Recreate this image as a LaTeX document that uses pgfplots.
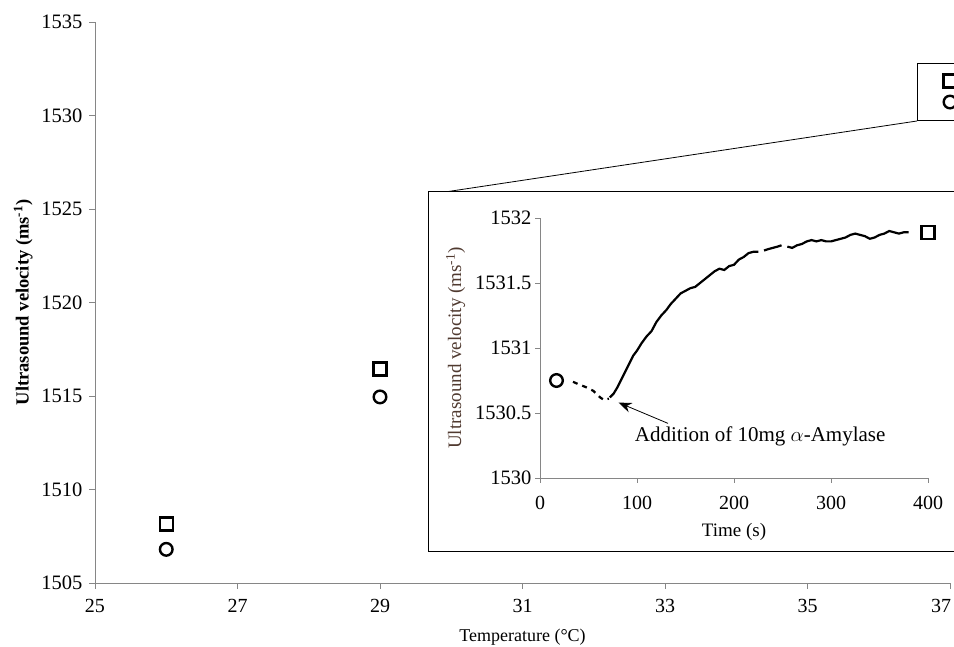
\documentclass[border=0pt]{standalone}
\usepackage{pgfplots}
\pgfplotsset{compat=1.18}
\usepackage{fontspec}
\setmainfont{Liberation Serif}
\usetikzlibrary{arrows.meta}
\definecolor{axgray}{RGB}{134,134,134}
\definecolor{labbrown}{RGB}{80,58,48}
\begin{document}
\begin{tikzpicture}[x=1pt,y=1pt]
\path[use as bounding box] (0,0) rectangle (954,647);
% main axis
\begin{axis}[
  at={(95pt,64pt)}, anchor=south west,
  scale only axis, width=855pt, height=561pt,
  xmin=25, xmax=37, ymin=1505, ymax=1535,
  xtick={25,27,...,37}, ytick={1505,1510,...,1535},
  xticklabels={25,27,29,31,33,35,{\hbox to 0pt{\hss 37\hspace{-1pt}}}},
  axis x line*=bottom, axis y line*=left,
  axis line style={axgray, line width=0.9pt},
  major tick style={axgray, line width=0.9pt},
  major tick length=6pt, tick align=outside,
  clip=false,
  /pgf/number format/assume math mode=true,
  /pgf/number format/1000 sep={},
  xticklabel style={font=\fontsize{20}{22}\selectfont, yshift=-7pt},
  yticklabel style={font=\fontsize{20.5}{22}\selectfont, xshift=-3pt},
  xlabel={Temperature (°C)},
  xlabel style={font=\fontsize{18}{20}\selectfont},
  xlabel shift=9pt,
  ylabel={\textbf{Ultrasound velocity (ms\textsuperscript{-1})}},
  ylabel style={font=\fontsize{18.5}{20}\selectfont},
  ylabel shift=2pt,
]
\addplot[only marks, mark=square, mark size=6.5pt, line width=2.4pt, black]
  coordinates {(26,1508.15) (29,1516.45) (37,1531.85)};
\addplot[only marks, mark=o, mark size=6.3pt, line width=2.4pt, black]
  coordinates {(26,1506.8) (29,1514.95) (37,1530.72)};
\end{axis}
% zoom indicator
\draw[line width=1pt] (917,526) rectangle (970,583);
\draw[line width=0.8pt] (917,526) -- (445,455);
% inset frame
\draw[line width=1pt, fill=white] (428,95) rectangle (970,455);
\begin{axis}[
  at={(540pt,169pt)}, anchor=south west,
  scale only axis, width=388pt, height=260pt,
  xmin=0, xmax=400, ymin=1530, ymax=1532,
  xtick={0,100,...,400}, ytick={1530,1530.5,...,1532},
  axis x line*=bottom, axis y line*=left,
  axis line style={axgray, line width=0.9pt},
  major tick style={axgray, line width=0.9pt},
  major tick length=5pt, tick align=outside,
  clip=false,
  /pgf/number format/assume math mode=true,
  /pgf/number format/1000 sep={},
  xticklabel style={font=\fontsize{20}{22}\selectfont, yshift=-10pt},
  yticklabel style={font=\fontsize{20.5}{22}\selectfont},
  xlabel={Time (s)},
  xlabel style={font=\fontsize{19}{21}\selectfont},
  xlabel shift=6pt,
  ylabel={Ultrasound velocity (ms\textsuperscript{-1})},
  ylabel style={font=\fontsize{19}{21}\selectfont, text=labbrown},
  ylabel shift=3pt,
]
\addplot[only marks, mark=o, mark size=6.3pt, line width=2.4pt, black]
  coordinates {(17,1530.75)};
\addplot[only marks, mark=square, mark size=6.5pt, line width=2.4pt, black]
  coordinates {(400,1531.89)};
\addplot[black, line width=2.2pt, dash pattern=on 5pt off 5pt]
  coordinates {(34,1530.74) (40,1530.72) (47,1530.70) (55,1530.67) (62,1530.62) (66,1530.60) (71,1530.61)};
\addplot[black, line width=2.2pt]
  coordinates {(72,1530.62) (76,1530.65) (80,1530.70) (84,1530.76) (88,1530.82) (92,1530.88) (96,1530.94) (100,1530.98) (105,1531.04) (110,1531.09) (115,1531.13) (120,1531.20) (125,1531.25) (130,1531.29) (135,1531.34) (140,1531.38) (145,1531.42) (150,1531.44) (155,1531.46) (160,1531.47) (165,1531.50) (170,1531.53) (175,1531.56) (180,1531.59) (185,1531.61) (190,1531.60) (195,1531.63) (200,1531.64) (205,1531.68) (210,1531.70) (215,1531.73) (220,1531.74) (225,1531.74)};
\addplot[black, line width=2.2pt]
  coordinates {(231,1531.75) (235,1531.76) (240,1531.77) (245,1531.78) (249,1531.79)};
\addplot[black, line width=2.2pt]
  coordinates {(255,1531.78) (260,1531.77) (265,1531.79) (270,1531.80) (275,1531.82) (280,1531.83) (285,1531.82) (290,1531.83) (295,1531.82) (300,1531.82) (305,1531.83) (310,1531.84) (315,1531.85) (320,1531.87) (325,1531.88) (330,1531.87) (335,1531.86) (340,1531.84) (345,1531.85) (350,1531.87) (355,1531.88) (360,1531.90) (365,1531.89) (370,1531.88) (375,1531.89) (380,1531.89)};
\draw[-{Stealth[length=13pt,width=10pt]}, line width=0.8pt] (axis cs:132,1530.42) -- (axis cs:81,1530.58);
\node[font=\fontsize{21}{23}\selectfont] at (axis cs:227,1530.32) {Addition of 10mg $\alpha$-Amylase};
\end{axis}
\end{tikzpicture}
\end{document}
